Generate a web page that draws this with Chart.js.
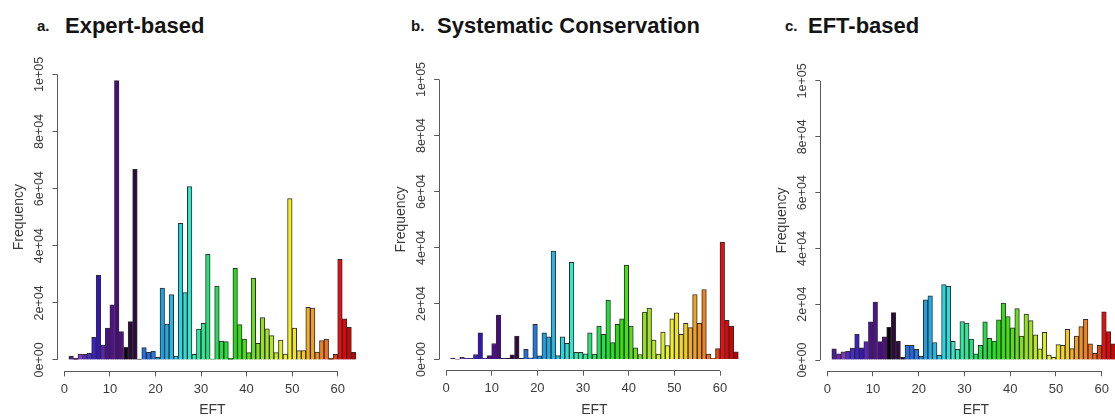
<!DOCTYPE html>
<html>
<head>
<meta charset="utf-8">
<title>EFT frequency histograms</title>
<script src="https://cdn.jsdelivr.net/npm/chart.js@4.4.1/dist/chart.umd.min.js"></script>
<style>
  html, body { margin: 0; padding: 0; background: #fff; }
  body { position: relative; width: 1115px; height: 416px; overflow: hidden; }
  canvas.panel { position: absolute; top: 0; }
  .ttl { position: absolute; font-family: 'Liberation Sans', Arial, sans-serif; font-weight: bold;
         color: #141414; line-height: 1; white-space: nowrap; }
  .ttl.big { font-size: 22px; top: 14.7px; }
  .ttl.small { font-size: 15px; top: 18px; }
</style>
</head>
<body>
<div class="ttl small" style="left:37px">a.</div>
<div class="ttl big" style="left:65px">Expert-based</div>
<div class="ttl small" style="left:411px">b.</div>
<div class="ttl big" style="left:437px">Systematic Conservation</div>
<div class="ttl small" style="left:785px">c.</div>
<div class="ttl big" style="left:808px">EFT-based</div>

<canvas id="panelA" class="panel" width="380" height="416" style="left:0px"></canvas>
<canvas id="panelB" class="panel" width="380" height="416" style="left:382px"></canvas>
<canvas id="panelC" class="panel" width="380" height="416" style="left:763px"></canvas>

<script>
// EFT bins (each bar covers [bin, bin + 1])
const eftBins = [1, 2, 3, 4, 5, 6, 7, 8, 9, 10, 11, 12, 13, 14, 15, 16, 17, 18, 19, 20,
  21, 22, 23, 24, 25, 26, 27, 28, 29, 30, 31, 32, 33, 34, 35, 36, 37, 38, 39, 40,
  41, 42, 43, 44, 45, 46, 47, 48, 49, 50, 51, 52, 53, 54, 55, 56, 57, 58, 59, 60,
  61, 62, 63];

// Frequency of each EFT under the three prioritisation approaches
const expertBased = [1400, 600, 2100, 2000, 2300, 7900, 29600, 5200, 11200, 19300,
  97800, 9900, 4400, 13400, 66700, 300, 4300, 2700, 3100, 900,
  25200, 12600, 22900, 1400, 47800, 23600, 60700, 2000, 10800, 12800,
  37000, 300, 25900, 6650, 6400, 600, 32100, 12400, 7350, 2600,
  28700, 5800, 14800, 10900, 8500, 2600, 7000, 2100, 56500, 11200,
  3300, 3300, 18400, 18200, 2800, 6800, 7350, 600, 2000, 35200,
  14400, 11400, 2700];

const systematicConservation = [500, 100, 800, 400, 400, 1800, 9500, 400, 1400, 5700,
  15900, 400, 500, 1700, 8400, 400, 3600, 600, 12600, 1300,
  9500, 8100, 38700, 1400, 8100, 5800, 34700, 2600, 2600, 2000,
  9500, 1900, 11900, 9000, 21200, 6000, 12600, 14500, 33700, 11900,
  4200, 1800, 16900, 18400, 6900, 1900, 9800, 5000, 14500, 16700,
  9000, 12900, 11400, 23200, 12900, 25000, 1900, 400, 3900, 41900,
  14000, 11900, 2700];

const eftBased = [4000, 2200, 2900, 3100, 4300, 9200, 4400, 6600, 13700, 20800,
  6600, 8300, 11700, 17000, 6700, 1000, 5300, 5300, 3800, 1400,
  21600, 23000, 6300, 1700, 27000, 26400, 6700, 3800, 13800, 13200,
  7500, 2200, 5300, 13700, 7800, 6800, 14400, 20400, 15600, 11500,
  18400, 8600, 16500, 14100, 9000, 4000, 9900, 1800, 1000, 5500,
  5300, 11000, 4100, 8600, 12000, 14600, 5800, 2400, 5300, 17300,
  10200, 5800, 3000];

// Fill colour of each EFT bin
const eftColors = ['#4a1c96', '#6a24b0', '#8c34c8', '#5028d0', '#4a2ccc', '#3a22c6', '#3414bc', '#5a22c0',
  '#4c0e8e', '#520f90', '#4a0a84', '#520c8c', '#0c0212', '#2c0a3c', '#2e0a3e', '#240632',
  '#2070e0', '#2266e6', '#1c7ae2', '#1c8ce2', '#1ca0e2', '#22aae4', '#22b8e8', '#22c8ea',
  '#22d8e4', '#26e0dc', '#30e8c8', '#30e8b4', '#30e8a2', '#30e892', '#24e27a', '#22e068',
  '#22e054', '#22e042', '#22e032', '#22e024', '#24dc14', '#34de12', '#44e012', '#56e014',
  '#66e01e', '#80e020', '#92e222', '#a4e422', '#b4e824', '#c8ee24', '#d8f024', '#e8f224',
  '#f2f020', '#f2e420', '#f2d820', '#f2c820', '#f2b020', '#f2a020', '#f29020', '#f28020',
  '#f27020', '#ee5a18', '#ea4010', '#e61010', '#e40404', '#d80000', '#c20000'];

// Axis ticks
const xTickValues = [0, 10, 20, 30, 40, 50, 60];
const xTickLabels = ['0', '10', '20', '30', '40', '50', '60'];
const yTickValues = [0, 20000, 40000, 60000, 80000, 100000];
const yTickLabels = ['0e+00', '2e+04', '4e+04', '6e+04', '8e+04', '1e+05'];

const FONT = "'Liberation Sans', Arial, sans-serif";
const AXIS_COLOR = '#5a5a5a';
const TEXT_COLOR = '#3a3a3a';

function alignPx(p) { return Math.round(p - 0.5) + 0.5; }

// Draws the detached axis lines, spanning only the first to last tick
const axisLines = {
  id: 'axisLines',
  afterDraw(chart) {
    const { ctx, scales: { x, y } } = chart;
    ctx.save();
    ctx.strokeStyle = AXIS_COLOR;
    ctx.lineWidth = 1;
    ctx.beginPath();
    const xb = alignPx(x.top);
    ctx.moveTo(x.getPixelForValue(xTickValues[0]), xb);
    ctx.lineTo(x.getPixelForValue(xTickValues[xTickValues.length - 1]), xb);
    const yl = alignPx(y.right);
    ctx.moveTo(yl, y.getPixelForValue(yTickValues[0]));
    ctx.lineTo(yl, y.getPixelForValue(yTickValues[yTickValues.length - 1]));
    ctx.stroke();
    ctx.restore();
  }
};

function makePanel(canvasId, values, g) {
  const points = eftBins.map((b, i) => ({ x: b + 0.5, y: values[i] }));
  return new Chart(document.getElementById(canvasId), {
    type: 'bar',
    data: {
      datasets: [{
        data: points,
        backgroundColor: eftColors,
        borderColor: '#2e2e2e',
        borderWidth: 1,
        barPercentage: 1,
        categoryPercentage: 1
      }]
    },
    plugins: [axisLines],
    options: {
      responsive: false,
      animation: false,
      devicePixelRatio: 1,
      layout: { padding: { top: g.top, right: g.right, left: 0, bottom: 0 } },
      plugins: { legend: { display: false }, tooltip: { enabled: false }, title: { display: false } },
      scales: {
        x: {
          type: 'linear',
          min: -1.52,
          max: 66.52,
          offset: false,
          border: { display: false },
          grid: { offset: false, drawOnChartArea: false, drawTicks: true, tickLength: 5,
                  color: AXIS_COLOR, tickColor: AXIS_COLOR },
          afterBuildTicks: (s) => { s.ticks = xTickValues.map(v => ({ value: v })); },
          ticks: {
            autoSkip: false, maxRotation: 0, minRotation: 0, padding: 5,
            color: TEXT_COLOR, font: { family: FONT, size: 13 },
            callback: (v) => xTickLabels[xTickValues.indexOf(v)]
          },
          title: { display: true, text: 'EFT', color: TEXT_COLOR, font: { family: FONT, size: 14 },
                   padding: { top: 0, bottom: -2.5 } },
          afterFit: (s) => { s.height = g.xh; }
        },
        y: {
          type: 'linear',
          min: -4000,
          max: 104000,
          border: { display: false },
          grid: { offset: false, drawOnChartArea: false, drawTicks: true, tickLength: 5,
                  color: AXIS_COLOR, tickColor: AXIS_COLOR },
          afterBuildTicks: (s) => { s.ticks = yTickValues.map(v => ({ value: v })); },
          ticks: {
            autoSkip: false, minRotation: 90, maxRotation: 90, crossAlign: 'center', padding: -5,
            color: TEXT_COLOR, font: { family: FONT, size: 12.5 },
            callback: (v) => yTickLabels[yTickValues.indexOf(v)]
          },
          title: { display: true, text: 'Frequency', color: TEXT_COLOR, font: { family: FONT, size: 14 },
                   padding: { top: 10.6, bottom: 0 } },
          afterFit: (s) => { s.width = g.yw; }
        }
      }
    }
  });
}

makePanel('panelA', expertBased, { top: 62.9, right: 12.6, yw: 57.4, xh: 44.6 });
makePanel('panelB', systematicConservation, { top: 68.3, right: 12.2, yw: 57.1, xh: 45.3 });
makePanel('panelC', eftBased, { top: 69.8, right: 11.5, yw: 57.3, xh: 44.8 });
</script>
</body>
</html>
